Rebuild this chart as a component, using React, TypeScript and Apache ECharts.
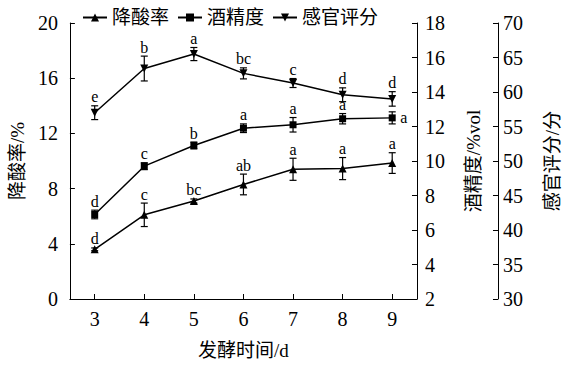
import React, { useEffect, useRef } from "react";
import * as echarts from "echarts";

const days = ["3", "4", "5", "6", "7", "8", "9"];
const acidRate = [3.6, 6.1, 7.1, 8.3, 9.4, 9.45, 9.85];
const acidErr = [0.1, 0.85, 0.15, 0.75, 0.8, 0.8, 0.75];
const acidSig = ["d", "c", "bc", "ab", "a", "a", "a"];
const alcohol = [6.9, 9.7, 10.9, 11.9, 12.1, 12.45, 12.5];
const alcoholErr = [0.25, 0.2, 0.2, 0.25, 0.42, 0.3, 0.35];
const alcoholSig = ["d", "c", "b", "a", "a", "a", "a"];
const score = [57.0, 63.4, 65.5, 62.7, 61.3, 59.6, 59.0];
const scoreErr = [1.0, 1.8, 0.95, 0.8, 0.65, 1.0, 1.05];
const scoreSig = ["e", "b", "a", "bc", "c", "d", "d"];

const FONT = '"Liberation Serif", "Noto Sans CJK SC", serif';

function errSeries(name: string, vals: number[], errs: number[], sigs: string[], yIdx: number, rightLast: boolean) {
  return {
    type: "custom",
    name,
    yAxisIndex: yIdx,
    z: 5,
    encode: { x: 0, y: 1 },
    data: vals.map((v, i) => [i, v, errs[i]]),
    renderItem: (params: any, api: any) => {
      const i = api.value(0);
      const v = api.value(1);
      const e = api.value(2);
      const c = api.coord([i, v]);
      const top = api.coord([i, v + e]);
      const bot = api.coord([i, v - e]);
      const cap = 3.5;
      const st = { stroke: "#000", lineWidth: 1.2 };
      const children: any[] = [
        { type: "line", shape: { x1: c[0], y1: top[1], x2: c[0], y2: bot[1] }, style: st },
        { type: "line", shape: { x1: c[0] - cap, y1: top[1], x2: c[0] + cap, y2: top[1] }, style: st },
        { type: "line", shape: { x1: c[0] - cap, y1: bot[1], x2: c[0] + cap, y2: bot[1] }, style: st },
      ];
      const idx = params.dataIndex;
      const isRight = rightLast && idx === vals.length - 1;
      children.push({
        type: "text",
        style: {
          text: sigs[idx],
          x: isRight ? c[0] + 8 : c[0],
          y: isRight ? c[1] : top[1] - 1,
          align: isRight ? "left" : "center",
          verticalAlign: isRight ? "middle" : "bottom",
          fontSize: 16,
          fontFamily: FONT,
          fill: "#000",
        },
      });
      return { type: "group", children };
    },
  };
}

export default function App() {
  const ref = useRef<HTMLDivElement>(null);
  useEffect(() => {
    if (!ref.current) return;
    const chart = echarts.init(ref.current, null, { renderer: "svg" });
    const axisCommon = {
      axisLine: { show: true, lineStyle: { color: "#000", width: 1 } },
      axisTick: { show: true, inside: true, length: 5, lineStyle: { color: "#000" } },
      splitLine: { show: false },
      nameLocation: "middle",
      nameTextStyle: { fontSize: 19, fontFamily: FONT, color: "#000" },
      axisLabel: { fontSize: 20, fontFamily: FONT, color: "#000" },
    };
    const lineCommon = {
      type: "line",
      lineStyle: { color: "#000", width: 1.5 },
      itemStyle: { color: "#000" },
      z: 4,
    };
    chart.setOption({
      animation: false,
      textStyle: { fontFamily: FONT },
      grid: { left: 69, right: 146, top: 23, bottom: 69 },
      legend: {
        top: 3,
        left: 77,
        itemWidth: 24,
        itemHeight: 10,
        itemGap: 8,
        textStyle: { fontSize: 19, fontFamily: FONT, color: "#000" },
        data: ["降酸率", "酒精度", "感官评分"],
      },
      xAxis: {
        ...axisCommon,
        type: "category",
        data: days,
        boundaryGap: true,
        axisTick: { show: true, inside: true, length: 5, alignWithLabel: true, lineStyle: { color: "#000" } },
        axisLabel: { fontSize: 20, fontFamily: FONT, color: "#000", margin: 10 },
        name: "发酵时间/d",
        nameGap: 42,
      },
      yAxis: [
        {
          ...axisCommon,
          type: "value",
          min: 0,
          max: 20,
          interval: 4,
          position: "left",
          name: "降酸率/%",
          nameGap: 41,
          axisLabel: { fontSize: 20, fontFamily: FONT, color: "#000", margin: 12 },
        },
        {
          ...axisCommon,
          type: "value",
          min: 2,
          max: 18,
          interval: 2,
          position: "right",
          name: "酒精度/%vol",
          nameGap: 47,
          axisLabel: { fontSize: 20, fontFamily: FONT, color: "#000", margin: 8 },
        },
        {
          ...axisCommon,
          type: "value",
          min: 30,
          max: 70,
          interval: 5,
          position: "right",
          offset: 81,
          name: "感官评分/分",
          nameGap: 45,
          axisLabel: { fontSize: 20, fontFamily: FONT, color: "#000", margin: 5 },
        },
      ],
      series: [
        { ...lineCommon, name: "降酸率", yAxisIndex: 0, data: acidRate, symbol: "triangle", symbolSize: 8 },
        { ...lineCommon, name: "酒精度", yAxisIndex: 1, data: alcohol, symbol: "rect", symbolSize: 7 },
        { ...lineCommon, name: "感官评分", yAxisIndex: 2, data: score, symbol: "triangle", symbolRotate: 180, symbolSize: 8 },
        errSeries("e1", acidRate, acidErr, acidSig, 0, false),
        errSeries("e2", alcohol, alcoholErr, alcoholSig, 1, true),
        errSeries("e3", score, scoreErr, scoreSig, 2, false),
      ],
    });
    return () => chart.dispose();
  }, []);
  return <div ref={ref} style={{ width: 570, height: 368, position: "absolute", left: 0, top: 0 }} />;
}
